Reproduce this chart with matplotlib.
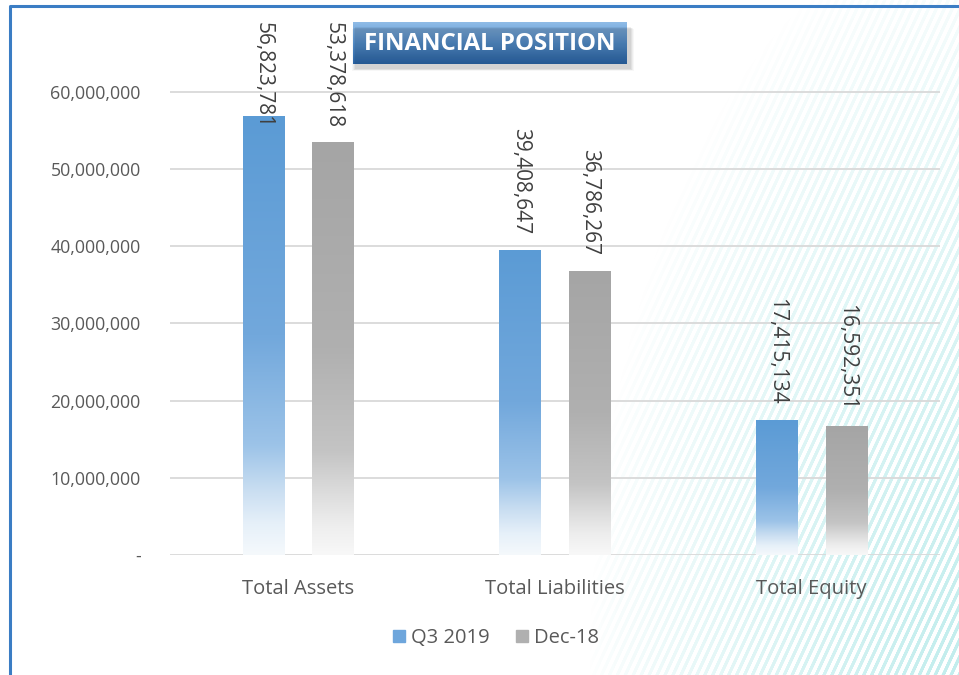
import numpy as np
import matplotlib.pyplot as plt
from matplotlib.colors import LinearSegmentedColormap
from matplotlib.patches import Rectangle

plt.rcParams['font.family'] = ['Open Sans', 'DejaVu Sans']

# data
categories = ['Total Assets', 'Total Liabilities', 'Total Equity']
series_names = ['Q3 2019', 'Dec-18']
q3_2019 = [56823781, 39408647, 17415134]
dec_18 = [53378618, 36786267, 16592351]
yticks = [0, 10000000, 20000000, 30000000, 40000000, 50000000, 60000000]

W, H = 959, 675
fig = plt.figure(figsize=(W / 100, H / 100), dpi=100)
fig.patch.set_facecolor('white')

# background stripes (bottom-right decoration)
bg = fig.add_axes([0, 0, 1, 1], zorder=-10)
bg.set_axis_off()
yy, xx = np.mgrid[0:H, 0:W]
phase = (xx * 0.906 + yy * 0.423) / 7.2
stripe = np.clip((np.sin(2 * np.pi * phase) + 0.1) * 2.5, 0, 1)
dist = np.hypot((W - xx) / 370.0, (H - yy) / 740.0)
fade = np.clip(1 - dist, 0, 1) ** 0.8
img = np.ones((H, W, 4))
img[..., 0] = 0.76
img[..., 1] = 0.93
img[..., 2] = 0.93
img[..., 3] = stripe * fade
bg.imshow(img, extent=[0, W, H, 0], aspect='auto', interpolation='bilinear')
bg.set_xlim(0, W)
bg.set_ylim(H, 0)
# border
bg.plot([10, 10, W + 5], [H + 5, 6, 6], color='#3b7dc4', lw=2.2, solid_capstyle='butt')

# main axes
ax = fig.add_axes([170 / W, 120 / H, 770 / W, 545 / H])
ax.patch.set_alpha(0)
ymax = 545 / 77.2 * 10000000

x = np.arange(len(categories))
bw = 0.163
off = 0.136

blue_cmap = LinearSegmentedColormap.from_list(
    'b', [(0, '#5b9bd5'), (0.5, '#72a8dc'), (0.75, '#9cc3e8'), (0.85, '#c8ddf1'),
          (0.93, '#e6f0f9'), (1, '#f5f9fc')])
gray_cmap = LinearSegmentedColormap.from_list(
    'g', [(0, '#a5a5a5'), (0.5, '#b0b0b0'), (0.75, '#c4c4c4'), (0.85, '#dcdcdc'),
          (0.93, '#eeeeee'), (1, '#f8f8f8')])
grad = np.linspace(0, 1, 256).reshape(-1, 1)

for vals, dx, cmap in [(q3_2019, -off, blue_cmap), (dec_18, off, gray_cmap)]:
    bars = ax.bar(x + dx, vals, bw, color='none', zorder=3)
    for b, v in zip(bars, vals):
        x0 = b.get_x()
        ax.imshow(grad, cmap=cmap, aspect='auto', zorder=3, origin='upper',
                  extent=[x0, x0 + bw, 0, v], interpolation='bicubic')
        ly = min(v + 2.1e6, 55.3e6)
        ax.text(x0 + bw / 2, ly, f'{v:,}', rotation=-90, ha='center', va='bottom',
                fontsize=15, color='#404040', zorder=5)

ax.set_xlim(-0.5, 2.5)
ax.set_ylim(0, ymax)
ax.set_yticks(yticks)
ax.set_yticklabels(['-' if t == 0 else f'{t:,}' for t in yticks])
ax.set_xticks(x)
ax.set_xticklabels(categories)
ax.tick_params(axis='both', length=0, colors='#595959')
ax.tick_params(axis='y', pad=21, labelsize=12.8)
ax.tick_params(axis='x', pad=17, labelsize=14.5)
ax.grid(axis='y', color='#d9d9d9', lw=1.3, zorder=0)
ax.set_axisbelow(True)
for s in ax.spines.values():
    s.set_visible(False)

# legend
lh = [Rectangle((0, 0), 1, 1, color='#6ea6dc'), Rectangle((0, 0), 1, 1, color='#b0b0b0')]
fig.legend(lh, series_names, loc='center', bbox_to_anchor=(496 / W, 1 - 638 / H),
           ncol=2, frameon=False, fontsize=14.5, labelcolor='#595959',
           handlelength=0.6, handleheight=0.6, handletextpad=0.3, columnspacing=1.3)

# title box
tb = fig.add_axes([353 / W, 1 - 64 / H, 274 / W, 42 / H], zorder=10)
tb.set_axis_off()
for i, a in enumerate([0.06, 0.05, 0.04, 0.03]):
    d = 0.01 + i * 0.012
    tb.add_patch(Rectangle((0.01 - d * 0.3, -0.12 - d), 1.0 + d * 0.6, 1.0, transform=tb.transAxes,
                           color='#000000', alpha=a, clip_on=False, lw=0))
tgrad = np.linspace(0, 1, 64).reshape(-1, 1)
tcmap = LinearSegmentedColormap.from_list('t', ['#8fbbe6', '#5a97d6', '#2f6db3'])
tb.imshow(tgrad, cmap=tcmap, aspect='auto', extent=[0, 1, 0, 1], origin='upper')
tb.set_xlim(0, 1)
tb.set_ylim(0, 1)
tb.text(0.5, 0.48, 'FINANCIAL POSITION', ha='center', va='center', color='white',
        fontsize=17.3, fontweight='bold', transform=tb.transAxes)

fig.savefig('out.png', dpi=100)
